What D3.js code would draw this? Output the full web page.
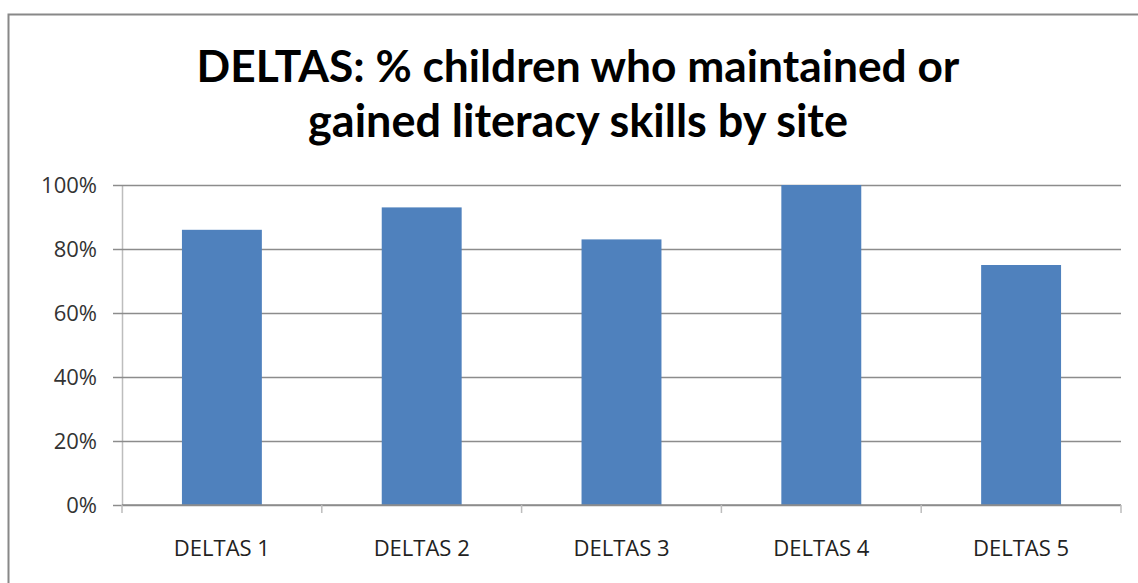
<!DOCTYPE html>
<html>
<head>
<meta charset="utf-8">
<script src="https://cdn.jsdelivr.net/npm/d3@7"></script>
<style>
  html, body { margin: 0; padding: 0; background: #fff; }
  svg { display: block; }
</style>
</head>
<body>
<svg id="chart" width="1138" height="583"></svg>
<script>
// Share of children who maintained or gained literacy skills, per site
const sites = ["DELTAS 1", "DELTAS 2", "DELTAS 3", "DELTAS 4", "DELTAS 5"];
const shares = [0.86, 0.93, 0.83, 1.00, 0.75];
const yTicks = [0, 0.2, 0.4, 0.6, 0.8, 1.0];
const titleLines = ["DELTAS: % children who maintained or", "gained literacy skills by site"];

const svg = d3.select("#chart");
const plot = { left: 122, right: 1121, top: 185, bottom: 505 };
const labelFont = "'Open Sans', Lato, sans-serif";
const grey = "#8c8c8c";

// outer chart frame (runs past the right and bottom edges)
svg.append("rect")
  .attr("x", 8.5).attr("y", 14.5)
  .attr("width", 1150).attr("height", 600)
  .attr("fill", "#fff")
  .attr("stroke", "#888").attr("stroke-width", 2);

// title, two centred lines fitted to their widths
const titleWidths = [763, 540];
const titleBase = [82, 137];
titleLines.forEach((line, i) => {
  const t = svg.append("text")
    .attr("x", 578).attr("y", titleBase[i])
    .attr("text-anchor", "middle")
    .attr("font-family", "Lato, 'Open Sans', sans-serif")
    .attr("font-weight", 700)
    .attr("font-size", 40)
    .attr("fill", "#000")
    .text(line);
  const w = t.node().getComputedTextLength();
  t.attr("font-size", 40 * titleWidths[i] / w);
});

const x = d3.scaleBand().domain(sites).range([plot.left, plot.right]).paddingInner(0.6).paddingOuter(0.3);
const y = d3.scaleLinear().domain([0, 1]).range([plot.bottom, plot.top]);

// horizontal gridlines with tick marks, and the value axis labels
const yAxis = d3.axisLeft(y)
  .tickValues(yTicks)
  .tickFormat(d3.format(".0%"))
  .tickSize(-(plot.right - plot.left))
  .tickSizeOuter(0)
  .tickPadding(25);
const gy = svg.append("g").attr("transform", `translate(${plot.left},0)`).call(yAxis);
gy.select(".domain").attr("stroke", "#bdbdbd").attr("stroke-width", 1.5);
gy.selectAll(".tick line").attr("stroke", grey).attr("stroke-width", 1.5);
gy.selectAll(".tick").append("line")
  .attr("x1", -9).attr("x2", 0)
  .attr("stroke", grey).attr("stroke-width", 1.5);
gy.selectAll(".tick text")
  .attr("font-family", labelFont)
  .attr("font-size", 22)
  .attr("fill", "#333");

// bars
svg.append("g").selectAll("rect")
  .data(sites.map((s, i) => ({ site: s, v: shares[i] })))
  .join("rect")
  .attr("x", d => x(d.site))
  .attr("y", d => y(d.v))
  .attr("width", x.bandwidth())
  .attr("height", d => y(0) - y(d.v))
  .attr("fill", "#4f81bd");

// category axis with ticks between the bands
const boundaries = d3.range(sites.length + 1).map(i => plot.left + i * (plot.right - plot.left) / sites.length);
const gx = svg.append("g");
gx.append("line")
  .attr("x1", plot.left).attr("x2", plot.right)
  .attr("y1", plot.bottom).attr("y2", plot.bottom)
  .attr("stroke", grey).attr("stroke-width", 1.5);
gx.selectAll("line.tk")
  .data(boundaries)
  .join("line").attr("class", "tk")
  .attr("x1", d => d).attr("x2", d => d)
  .attr("y1", plot.bottom).attr("y2", plot.bottom + 8)
  .attr("stroke", "#bdbdbd").attr("stroke-width", 1.5);
gx.selectAll("text.cat")
  .data(sites)
  .join("text").attr("class", "cat")
  .attr("x", d => x(d) + x.bandwidth() / 2)
  .attr("y", 556)
  .attr("text-anchor", "middle")
  .attr("font-family", labelFont)
  .attr("font-size", 22)
  .attr("fill", "#222")
  .text(d => d);
</script>
</body>
</html>
